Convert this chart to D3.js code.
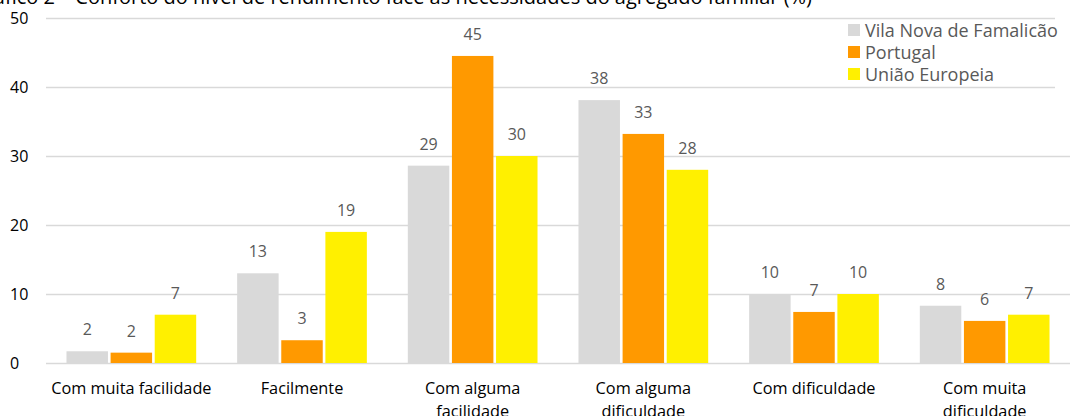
<!DOCTYPE html>
<html>
<head>
<meta charset="utf-8">
<script src="https://cdn.jsdelivr.net/npm/d3@7"></script>
<style>
  html, body { margin: 0; padding: 0; background: #fff; }
  svg { display: block; font-family: "Open Sans", "Noto Sans", sans-serif; }
</style>
</head>
<body>
<svg id="chart" width="1077" height="416"></svg>
<script>
// Rendimento do agregado face às necessidades (%)
const categories = [
  ["Com muita facilidade"],
  ["Facilmente"],
  ["Com alguma", "facilidade"],
  ["Com alguma", "dificuldade"],
  ["Com dificuldade"],
  ["Com muita", "dificuldade"]
];
const seriesNames = ["Vila Nova de Famalicão", "Portugal", "União Europeia"];
const seriesColors = ["#D9D9D9", "#FF9900", "#FFF000"];
const famalicao = [1.7, 13.0, 28.6, 38.1, 10.0, 8.3];
const portugal  = [1.5, 3.3, 44.5, 33.2, 7.4, 6.1];
const uniaoEuropeia = [7.0, 19.0, 30.0, 28.0, 10.0, 7.0];
const yTicks = [0, 10, 20, 30, 40, 50];
const title = "Gráfico 2 – Conforto do nível de rendimento face às necessidades do agregado familiar (%)";

const seriesValues = [famalicao, portugal, uniaoEuropeia];
const svg = d3.select("#chart");

const plot = { left: 46, right: 1070, top: 18, bottom: 363 };

const x0 = d3.scaleBand()
  .domain(d3.range(categories.length))
  .range([plot.left, plot.right])
  .paddingInner(0.24)
  .paddingOuter(0.12);

const x1 = d3.scaleBand()
  .domain(d3.range(seriesNames.length))
  .range([0, x0.bandwidth()])
  .paddingInner(0.06);

const y = d3.scaleLinear().domain([0, 50]).range([plot.bottom, plot.top]);

// title (partly above the top edge)
svg.append("text")
  .attr("x", 812).attr("y", 4)
  .attr("text-anchor", "end")
  .attr("font-size", 20)
  .attr("fill", "#000")
  .text(title);

// gridlines
svg.append("g")
  .selectAll("line")
  .data(yTicks)
  .join("line")
  .attr("x1", plot.left).attr("x2", plot.right)
  .attr("y1", d => y(d) + 0.5).attr("y2", d => y(d) + 0.5)
  .attr("stroke", "#D9D9D9")
  .attr("stroke-width", 1.3);

// y tick labels, left aligned
svg.append("g")
  .selectAll("text")
  .data(yTicks)
  .join("text")
  .attr("x", 10)
  .attr("y", d => y(d))
  .attr("dy", "0.36em")
  .attr("font-size", 16)
  .attr("fill", "#000")
  .text(d => d);

// bars
const groups = svg.append("g")
  .selectAll("g")
  .data(categories.map((c, i) => i))
  .join("g")
  .attr("transform", i => `translate(${x0(i)},0)`);

groups.selectAll("rect")
  .data(i => seriesValues.map((vals, s) => ({ s, v: vals[i] })))
  .join("rect")
  .attr("x", d => x1(d.s))
  .attr("width", x1.bandwidth())
  .attr("y", d => y(d.v))
  .attr("height", d => y(0) - y(d.v))
  .attr("fill", d => seriesColors[d.s]);

// data labels
const fmt = d3.format(".0f");
groups.selectAll("text")
  .data(i => seriesValues.map((vals, s) => ({ s, v: vals[i] })))
  .join("text")
  .attr("x", d => x1(d.s) + x1.bandwidth() / 2)
  .attr("y", d => y(d.v) - 16)
  .attr("text-anchor", "middle")
  .attr("font-size", 16)
  .attr("fill", "#595959")
  .text(d => fmt(d.v));

// category labels
const cat = svg.append("g")
  .selectAll("text")
  .data(categories)
  .join("text")
  .attr("x", (d, i) => x0(i) + x0.bandwidth() / 2)
  .attr("y", 394)
  .attr("text-anchor", "middle")
  .attr("font-size", 16.3)
  .attr("fill", "#000");
cat.selectAll("tspan")
  .data(d => d)
  .join("tspan")
  .attr("x", function () { return d3.select(this.parentNode).attr("x"); })
  .attr("dy", (d, j) => j === 0 ? 0 : 22.5)
  .text(d => d);

// legend
const legend = svg.append("g");
legend.append("rect")
  .attr("x", 1055).attr("y", 12).attr("width", 22).attr("height", 80)
  .attr("fill", "#fff");
const items = legend.selectAll("g")
  .data(seriesNames)
  .join("g")
  .attr("transform", (d, i) => `translate(848,${24 + i * 22})`);
items.append("rect")
  .attr("width", 12).attr("height", 12)
  .attr("fill", (d, i) => seriesColors[i]);
items.append("text")
  .attr("x", 17).attr("y", 12.5)
  .attr("font-size", 18)
  .attr("fill", "#595959")
  .text(d => d);
</script>
</body>
</html>
